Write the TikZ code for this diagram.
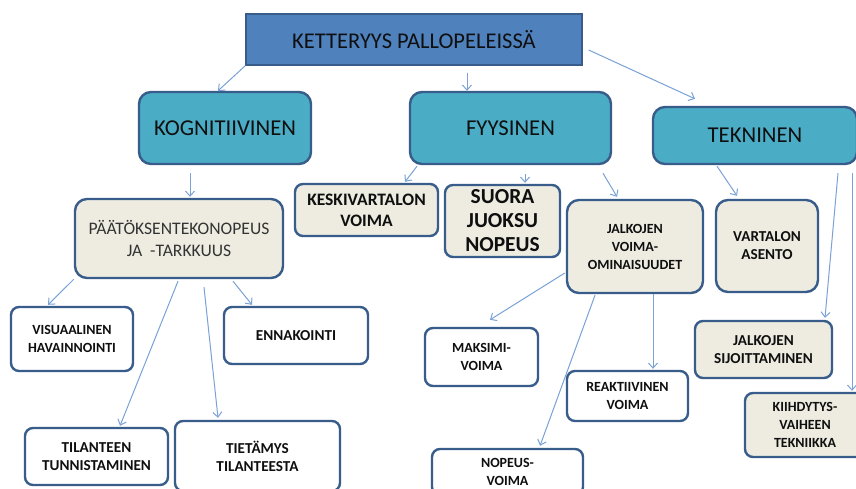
\documentclass[tikz,border=0pt]{standalone}
\usepackage{fontspec}
\setmainfont{Carlito}
\usetikzlibrary{arrows.meta}
\definecolor{topfill}{RGB}{79,129,189}
\definecolor{lvlfill}{RGB}{75,172,198}
\definecolor{beige}{RGB}{238,236,225}
\definecolor{edge}{RGB}{56,93,138}
\definecolor{arrowc}{RGB}{122,162,214}
\definecolor{txt}{RGB}{15,15,15}
\tikzset{
  box/.style={draw=edge, line width=2.4pt, rounded corners=8pt, align=center, inner sep=0pt, text=txt},
  topbox/.style={draw=edge, line width=1.3pt, fill=topfill, align=center, inner sep=0pt, text=txt, font=\fontsize{22.5}{26}\selectfont},
  lvl/.style={box, fill=lvlfill, rounded corners=12pt, font=\fontsize{22.7}{26}\selectfont},
  beigebox/.style={box, fill=beige},
  whitebox/.style={box, fill=white},
  small/.style={font=\bfseries\fontsize{14}{18}\selectfont},
  smallb/.style={font=\bfseries\fontsize{15.2}{18}\selectfont},
  arr/.style={draw=arrowc, line width=1pt, -{Straight Barb[length=5pt,width=9pt]}},
}
\begin{document}
\begin{tikzpicture}[x=1pt,y=-1pt]
\useasboundingbox (0,0) rectangle (856,488);
\clip (0,0) rectangle (856,488);
\fill[white] (0,0) rectangle (856,488);

\node[topbox, minimum width=336pt, minimum height=51pt] (top) at (414,39.5) {KETTERYYS PALLOPELEISSÄ};

\node[lvl, minimum width=172pt, minimum height=72pt] (kog) at (225,128) {KOGNITIIVINEN};
\node[lvl, minimum width=201pt, minimum height=72pt] (fyy) at (510.5,128) {FYYSINEN};
\node[lvl, minimum width=204pt, minimum height=57pt] (tek) at (755,135.5) {TEKNINEN};

\node[beigebox, rounded corners=12pt, minimum width=208pt, minimum height=79pt, font=\fontsize{17.6}{22}\selectfont, text=black!80] (paa) at (179,238.5) {PÄÄTÖKSENTEKONOPEUS\\JA\ \ -TARKKUUS};
\node[whitebox, small, minimum width=122pt, minimum height=64pt] (vis) at (72,339) {VISUAALINEN\\HAVAINNOINTI};
\node[whitebox, smallb, minimum width=144pt, minimum height=57pt] (enn) at (296,335.5) {ENNAKOINTI};
\node[whitebox, smallb, minimum width=143pt, minimum height=57pt] (til) at (96.5,456.5) {TILANTEEN\\TUNNISTAMINEN};
\node[whitebox, smallb, minimum width=165pt, minimum height=70pt] (tie) at (257.5,456) {TIETÄMYS\\TILANTEESTA};

\node[beigebox, minimum width=143pt, minimum height=52pt, font=\bfseries\fontsize{17.5}{21}\selectfont] (kes) at (366.5,210) {KESKIVARTALON\\VOIMA};
\node[beigebox, minimum width=115pt, minimum height=72pt, font=\bfseries\fontsize{21.4}{24}\selectfont] (suo) at (502.5,221) {SUORA\\JUOKSU\\NOPEUS};
\node[beigebox, rounded corners=12pt, small, minimum width=136pt, minimum height=93pt] (jal) at (635,246.5) {JALKOJEN\\VOIMA-\\OMINAISUUDET};
\node[beigebox, rounded corners=12pt, smallb, minimum width=102pt, minimum height=92pt] (var) at (767,246) {VARTALON\\ASENTO};
\node[beigebox, smallb, minimum width=137pt, minimum height=57pt] (sij) at (763.5,349.5) {JALKOJEN\\SIJOITTAMINEN};
\node[beigebox, small, minimum width=120pt, minimum height=64pt] (kii) at (805,425) {KIIHDYTYS-\\VAIHEEN\\TEKNIIKKA};

\node[whitebox, small, minimum width=113pt, minimum height=58pt] (mak) at (481.5,357) {MAKSIMI-\\VOIMA};
\node[whitebox, small, minimum width=121pt, minimum height=50pt] (rea) at (627.5,396) {REAKTIIVINEN\\VOIMA};
\node[whitebox, small, minimum width=151pt, minimum height=46pt] (nop) at (507.5,472) {NOPEUS-\\VOIMA};

% connectors
\draw[arr] (top.south west) -- ([xshift=-7pt]kog.north);
\draw[arr] ([xshift=53pt,yshift=-7pt]top.south) -- ([xshift=-43.5pt]fyy.north);
\draw[arr] ([xshift=6pt,yshift=-10.5pt]top.east) -- ([xshift=-60pt,yshift=7pt]tek.north);

\draw[arr] ([xshift=-35pt,yshift=-8pt]kog.south) -- ([xshift=11pt,yshift=1pt]paa.north);
\draw[arr] (paa.south west) -- ([xshift=-24pt,yshift=1pt]vis.north);
\draw[arr] ([xshift=54pt,yshift=-2pt]paa.south) -- ([xshift=-44pt,yshift=1pt]enn.north);
\draw[arr] ([xshift=-1pt,yshift=-2pt]paa.south) -- ([xshift=23.5pt,yshift=1pt]til.north);
\draw[arr] ([xshift=25pt,yshift=-8pt]paa.south) -- ([xshift=-39.5pt,yshift=2pt]tie.north);

\draw[arr] ([xshift=-93.5pt,yshift=-1pt]fyy.south) -- ([xshift=38.5pt,yshift=1pt]kes.north);
\draw[arr] ([xshift=14.5pt,yshift=-9pt]fyy.south) -- ([xshift=22.5pt,yshift=1pt]suo.north);
\draw[arr] ([xshift=92.5pt,yshift=-8pt]fyy.south) -- ([xshift=-18pt,yshift=2pt]jal.north);

\draw[arr] ([xshift=-38pt,yshift=-1pt]tek.south) -- ([xshift=-30pt,yshift=3pt]var.north);
\draw[arr] ([xshift=83pt,yshift=-8pt]tek.south) -- ([xshift=61.5pt,yshift=2pt]sij.north);
\draw[arr] ([xshift=97pt,yshift=-8pt]tek.south) -- ([xshift=47pt,yshift=1pt]kii.north);

\draw[arr] ([xshift=-1pt,yshift=-26.5pt]jal.west) -- ([xshift=8.5pt,yshift=7pt]mak.north);
\draw[arr] ([xshift=18pt]jal.south) -- ([xshift=25.5pt,yshift=1pt]rea.north);
\draw[arr] ([xshift=-40pt,yshift=-1pt]jal.south) -- ([xshift=32.5pt,yshift=2pt]nop.north);
\end{tikzpicture}
\end{document}
